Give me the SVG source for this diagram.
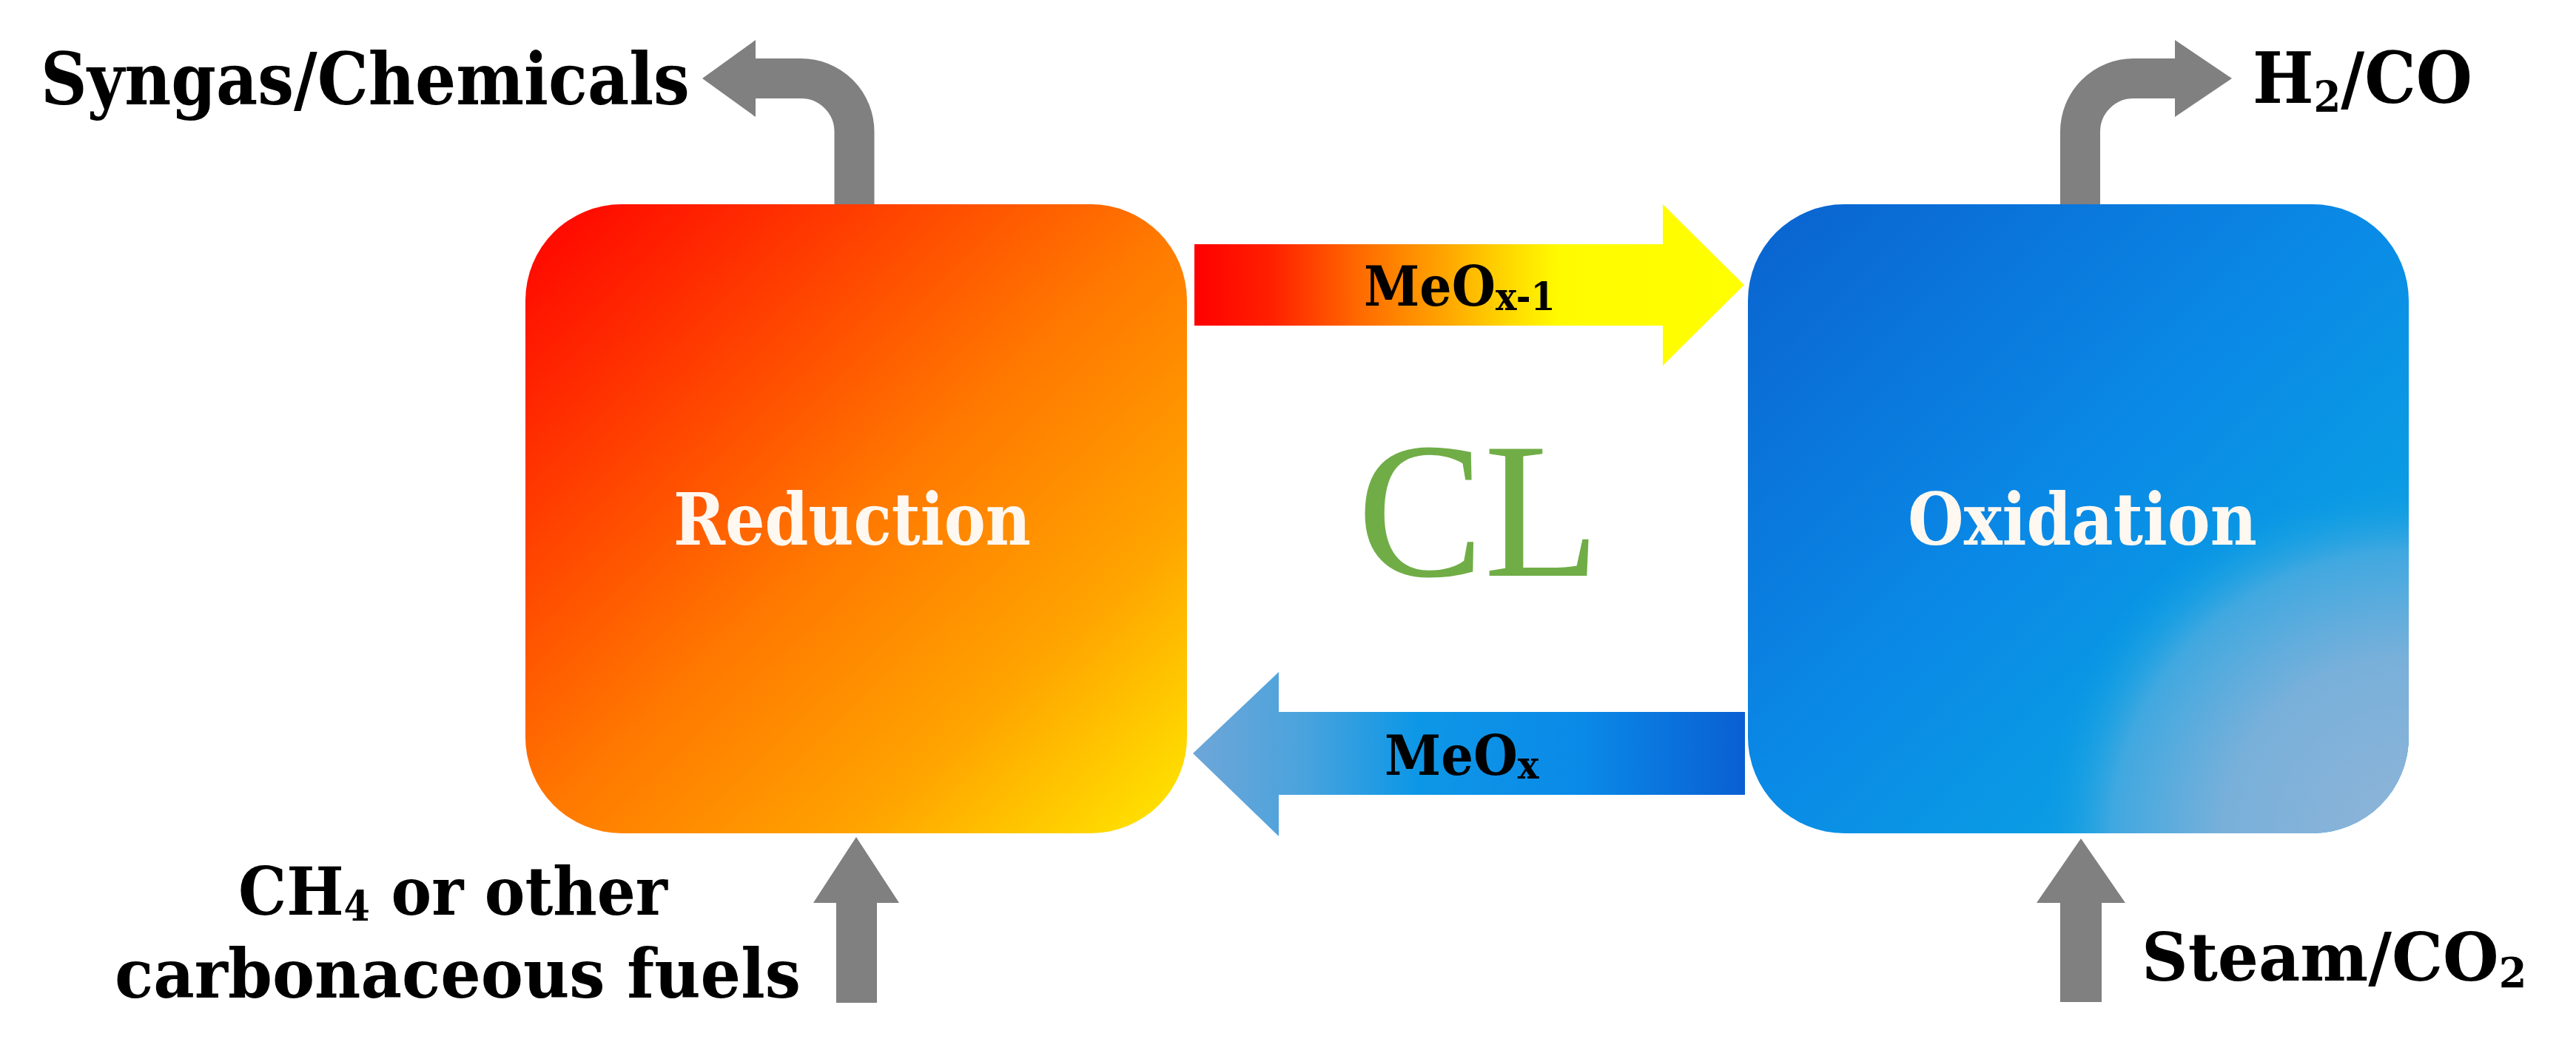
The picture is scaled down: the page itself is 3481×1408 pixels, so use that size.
<svg xmlns="http://www.w3.org/2000/svg" width="3481" height="1408" viewBox="0 0 3481 1408">
  <defs>
    <linearGradient id="gRed" x1="0" y1="0" x2="1" y2="1">
      <stop offset="0" stop-color="#FF0000"/>
      <stop offset="0.25" stop-color="#FF3C00"/>
      <stop offset="0.5" stop-color="#FF7800"/>
      <stop offset="0.75" stop-color="#FFA400"/>
      <stop offset="1" stop-color="#FFEA00"/>
    </linearGradient>
    <linearGradient id="gBlue" x1="0" y1="0" x2="1" y2="1">
      <stop offset="0" stop-color="#0A62CF"/>
      <stop offset="0.45" stop-color="#0A88E6"/>
      <stop offset="0.7" stop-color="#0A9AE4"/>
      <stop offset="1" stop-color="#1BA0E0"/>
    </linearGradient>
    <radialGradient id="gBlueLight" cx="1" cy="1" r="0.56">
      <stop offset="0" stop-color="#90B4D8" stop-opacity="1"/>
      <stop offset="0.5" stop-color="#78B0DA" stop-opacity="1"/>
      <stop offset="0.8" stop-color="#40A8E0" stop-opacity="1"/>
      <stop offset="0.9" stop-color="#1FA2E2" stop-opacity="0.6"/>
      <stop offset="1" stop-color="#0A9AE4" stop-opacity="0"/>
    </radialGradient>
    <linearGradient id="gArrowTop" gradientUnits="userSpaceOnUse" x1="1614" y1="0" x2="2357" y2="0">
      <stop offset="0" stop-color="#FF0000"/>
      <stop offset="0.14" stop-color="#FF2000"/>
      <stop offset="0.30" stop-color="#FF6A00"/>
      <stop offset="0.455" stop-color="#FFA500"/>
      <stop offset="0.57" stop-color="#FFD800"/>
      <stop offset="0.66" stop-color="#FFFA00"/>
      <stop offset="1" stop-color="#FFFF00"/>
    </linearGradient>
    <linearGradient id="gArrowBot" gradientUnits="userSpaceOnUse" x1="1612" y1="0" x2="2358" y2="0">
      <stop offset="0" stop-color="#6EA6D8"/>
      <stop offset="0.2" stop-color="#4AA3DD"/>
      <stop offset="0.4" stop-color="#0E97E6"/>
      <stop offset="0.7" stop-color="#0A8AE8"/>
      <stop offset="1" stop-color="#0A5FD2"/>
    </linearGradient>
  </defs>
  <style>
    .lbl { font-family: "DejaVu Serif", "Liberation Serif", serif; font-weight: bold; fill: #000; }
    .node-lbl { font-family: "DejaVu Serif", "Liberation Serif", serif; font-weight: bold; fill: #FFF8F0; }
    .flow { fill: none; stroke: #808080; stroke-width: 54; }
    .head { fill: #808080; }
  </style>
  <rect width="3481" height="1408" fill="#FFFFFF"/>

  <g id="node-reduction">
    <rect x="710" y="276" width="894" height="850" rx="130" ry="130" fill="url(#gRed)"/>
    <text class="node-lbl" x="910" y="736" font-size="97" textLength="483" lengthAdjust="spacingAndGlyphs">Reduction</text>
  </g>

  <g id="node-oxidation">
    <rect x="2362" y="276" width="893" height="850" rx="130" ry="130" fill="url(#gBlue)"/>
    <rect x="2362" y="276" width="893" height="850" rx="130" ry="130" fill="url(#gBlueLight)"/>
    <text class="node-lbl" x="2578" y="736" font-size="97" textLength="472" lengthAdjust="spacingAndGlyphs">Oxidation</text>
  </g>

  <g id="label-cl">
    <text x="1834" y="778" font-family="Liberation Serif, serif" font-size="262" fill="#70AD47" textLength="328" lengthAdjust="spacingAndGlyphs">CL</text>
  </g>

  <g id="connectors">
    <g id="arrow-meox-1">
      <polygon points="1614,330 2247,330 2247,276 2357,385 2247,494 2247,440 1614,440" fill="url(#gArrowTop)"/>
      <text class="lbl" transform="translate(1843,413) scale(0.92,1)" font-size="74">MeO<tspan font-size="52" dy="6">x-1</tspan></text>
    </g>
    <g id="arrow-meox">
      <polygon points="2358,962 1728,962 1728,908 1612,1018 1728,1130 1728,1074 2358,1074" fill="url(#gArrowBot)"/>
      <text class="lbl" transform="translate(1871,1047) scale(0.93,1)" font-size="74">MeO<tspan font-size="52" dy="5">x</tspan></text>
    </g>
    <g id="arrow-syngas">
      <path class="flow" d="M1154.5 276 V178 A72 72 0 0 0 1082.5 106 H1020"/>
      <polygon class="head" points="1021,54 949,106 1021,158"/>
    </g>
    <g id="arrow-h2co">
      <path class="flow" d="M2811 276 V178 A72 72 0 0 1 2883 106 H2940"/>
      <polygon class="head" points="2939,54 3016,106 2939,158"/>
    </g>
    <g id="arrow-fuel">
      <polygon class="head" points="1130,1355 1130,1220 1099,1220 1157,1131 1215,1220 1185,1220 1185,1355"/>
    </g>
    <g id="arrow-steam">
      <polygon class="head" points="2784,1354 2784,1220 2752,1220 2812,1133 2872,1220 2840,1220 2840,1354"/>
    </g>
  </g>

  <g id="label-syngas">
    <text class="lbl" x="55" y="141" font-size="97" textLength="877" lengthAdjust="spacingAndGlyphs">Syngas/Chemicals</text>
  </g>
  <g id="label-h2co">
    <text class="lbl" transform="translate(3044,139) scale(0.91,1)" font-size="96">H<tspan font-size="58" dy="12">2</tspan><tspan dy="-12">/CO</tspan></text>
  </g>
  <g id="label-fuel">
    <text class="lbl" transform="translate(322,1236) scale(0.91,1)" font-size="90">CH<tspan font-size="56" dy="8">4</tspan><tspan dy="-8"> or other</tspan></text>
    <text class="lbl" x="155" y="1348" font-size="92" textLength="927" lengthAdjust="spacingAndGlyphs">carbonaceous fuels</text>
  </g>
  <g id="label-steam">
    <text class="lbl" transform="translate(2894,1325) scale(0.965,1)" font-size="90">Steam/CO<tspan font-size="56" dy="9">2</tspan></text>
  </g>
</svg>
